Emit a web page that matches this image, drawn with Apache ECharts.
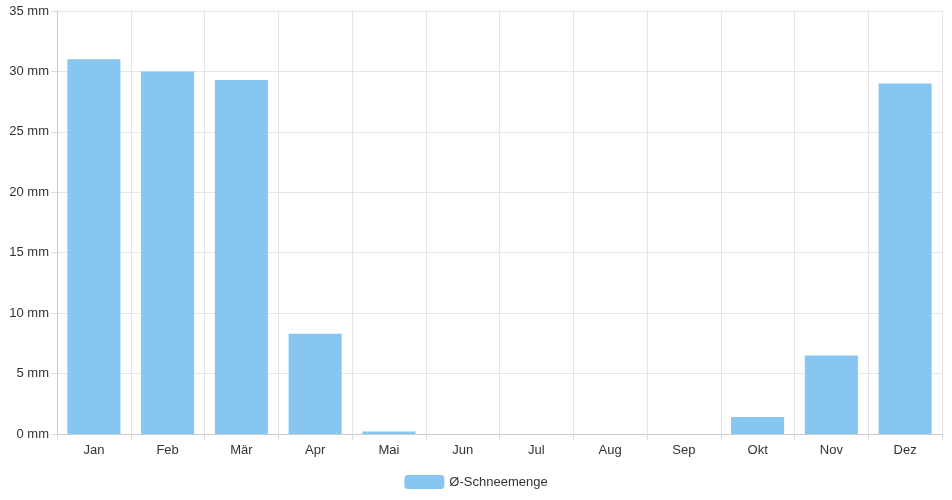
<!DOCTYPE html>
<html><head><meta charset="utf-8">
<script src="https://cdn.jsdelivr.net/npm/echarts@6/dist/echarts.min.js"></script>
<style>html,body{margin:0;padding:0;background:#fff}#c{width:952px;height:500px}</style>
</head><body><div id="c"></div>
<script>
const categories = ['Jan','Feb','Mär','Apr','Mai','Jun','Jul','Aug','Sep','Okt','Nov','Dez'];
const snow = [31.0, 30.0, 29.3, 8.3, 0.2, 0, 0, 0, 0, 1.4, 6.5, 29.0];
const seriesName = 'Ø-Schneemenge';
const chart = echarts.init(document.getElementById('c'));
chart.setOption({
  animation:false,
  textStyle:{fontFamily:'Liberation Sans, Arial, sans-serif'},
  grid:{left:57,right:10,top:11,bottom:66},
  legend:{bottom:6,left:'center',itemWidth:40,itemHeight:14,itemGap:10,
    textStyle:{color:'#333',fontSize:13},data:[seriesName]},
  xAxis:{type:'category',data:categories,
    axisLine:{lineStyle:{color:'#ccc'}},axisTick:{show:true,length:6,lineStyle:{color:'#ddd'}},
    splitLine:{show:true,lineStyle:{color:'#e5e5e5'}},
    axisLabel:{color:'#333',fontSize:13,margin:10}},
  yAxis:{type:'value',min:0,max:35,interval:5,
    axisLine:{show:true,lineStyle:{color:'#ccc'}},axisTick:{show:true,length:6,lineStyle:{color:'#ddd'}},
    splitLine:{lineStyle:{color:'#e5e5e5'}},
    axisLabel:{color:'#333',fontSize:13,formatter:'{value} mm'}},
  series:[{name:seriesName,type:'bar',data:snow,barWidth:'72%',
    itemStyle:{color:'#88c6f2'}}]
});
</script></body></html>
